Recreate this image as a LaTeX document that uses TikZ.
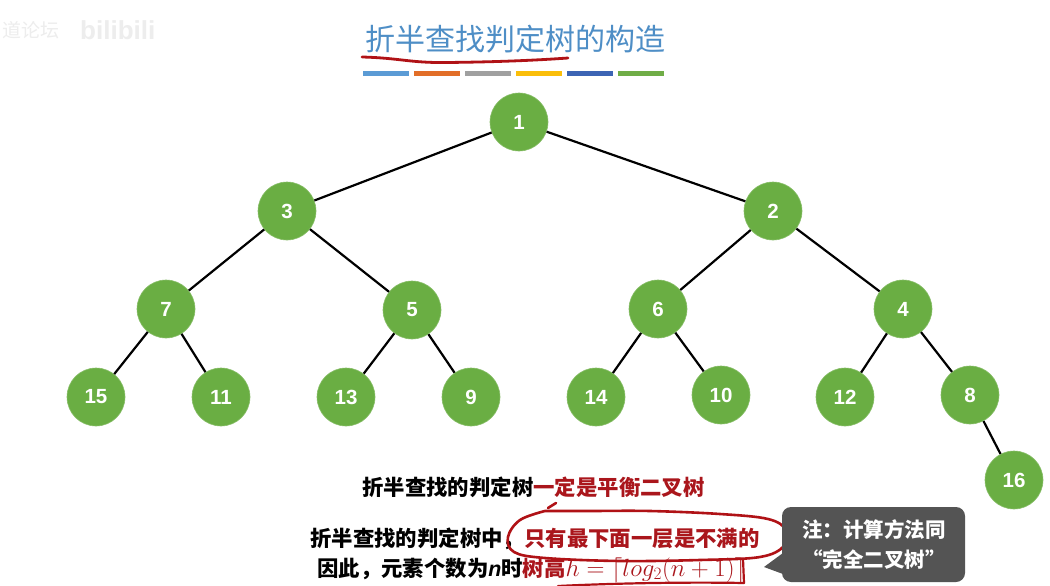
\documentclass[tikz,border=0pt]{standalone}
\usepackage{fontspec}
\setmainfont{Liberation Sans}
\newfontfamily\cjk{Noto Sans CJK SC}
\usetikzlibrary{positioning}
\definecolor{nodegreen}{RGB}{106,174,67}
\definecolor{titleblue}{RGB}{78,142,198}
\definecolor{annred}{RGB}{176,18,22}
\definecolor{txtred}{RGB}{170,22,28}
\definecolor{calloutgray}{RGB}{84,84,84}
\definecolor{barA}{RGB}{91,155,213}
\definecolor{barB}{RGB}{226,110,40}
\definecolor{barC}{RGB}{160,160,160}
\definecolor{barD}{RGB}{250,190,10}
\definecolor{barE}{RGB}{60,100,180}
\definecolor{barF}{RGB}{112,173,71}
\tikzset{
  tnode/.style={circle, fill=nodegreen, draw=nodegreen!80!white, line width=0.6pt, minimum size=58pt, inner sep=0pt,
    text=white, font=\fontsize{20.5}{24}\selectfont\bfseries},
  edge/.style={line width=2.2pt, black},
  bartop/.style={line width=5pt},
  redpen/.style={annred, line width=2.6pt, line cap=round, line join=round},
  bodytext/.style={font=\cjk\bfseries\fontsize{21.4}{26}\selectfont, inner sep=0pt, anchor=west},
}
\begin{document}
\begin{tikzpicture}[x=1pt,y=-1pt]
\useasboundingbox (0,0) rectangle (1050,586);
\fill[white] (0,0) rectangle (1050,586);

% faint watermark
\node[anchor=west, text=black!7, font=\cjk\fontsize{19}{22}\selectfont, inner sep=0pt] (wm1) at (2,30) {道论坛};
\node[anchor=west, text=black!7, font=\fontsize{26}{30}\selectfont\bfseries, inner sep=0pt] (wm2) at (80,30) {bilibili};

% title
\node[font=\cjk\fontsize{30}{34}\selectfont, text=titleblue, inner sep=0pt] (title) at (515.5,39) {折半查找判定树的构造};
\draw[redpen, line width=2.8pt] (362,57) .. controls (400,58) and (410,63) .. (446,62.5) .. controls (500,62) and (540,60) .. (568,58);

% color bars
\foreach \i/\c in {0/barA,1/barB,2/barC,3/barD,4/barE,5/barF}{
  \draw[bartop, \c] ({363+51*\i},74) -- ({409+51*\i},74);
}

% tree nodes
\node[tnode] (n1) at (519,122) {1};
\node[tnode] (n3) at (287,211) {3};
\node[tnode] (n2) at (773,211) {2};
\node[tnode] (n7) at (166,309) {7};
\node[tnode] (n5) at (412,310) {5};
\node[tnode] (n6) at (658,309) {6};
\node[tnode] (n4) at (903,309) {4};
\node[tnode] (n15) at (96,397) {15};
\node[tnode] (n11) at (221,397) {11};
\node[tnode] (n13) at (346,397) {13};
\node[tnode] (n9) at (471,397) {9};
\node[tnode] (n14) at (596,397) {14};
\node[tnode] (n10) at (721,395) {10};
\node[tnode] (n12) at (845,397) {12};
\node[tnode] (n8) at (970,395) {8};
\node[tnode] (n16) at (1014,480) {16};

\draw[edge] (n1) -- (n3);
\draw[edge] (n1) -- (n2);
\draw[edge] (n3) -- (n7);
\draw[edge] (n3) -- (n5);
\draw[edge] (n2) -- (n6);
\draw[edge] (n2) -- (n4);
\draw[edge] (n7) -- (n15);
\draw[edge] (n7) -- (n11);
\draw[edge] (n5) -- (n13);
\draw[edge] (n5) -- (n9);
\draw[edge] (n6) -- (n14);
\draw[edge] (n6) -- (n10);
\draw[edge] (n4) -- (n12);
\draw[edge] (n4) -- (n8);
\draw[edge] (n8) -- (n16);

% bottom text
\node[bodytext] (t1) at (362,487) {折半查找的判定树\textcolor{txtred}{一定是平衡二叉树}};
\node[bodytext] (t2) at (310,539) {折半查找的判定树中，\textcolor{txtred}{只有最下面一层是不满的}};
\node[bodytext] (t3) at (317,570) {因此，元素个数为{\fontspec{Liberation Sans}\bfseries\itshape n}时\textcolor{txtred}{树高\fontsize{25}{26}\selectfont$h=\lceil log_2(n+1)\rceil$}};

% red hand annotations
\draw[redpen] (556,503) -- (548,508);
\draw[redpen] plot[smooth, tension=0.6] coordinates {(545,511) (520,520) (508,537) (514,552) (545,558) (620,561) (700,560) (760,557) (784,546) (786,530) (768,519) (720,514) (650,511) (590,511) (545,511)};
\draw[redpen, line width=2.2pt] (743,559) -- (744,583);
\draw[redpen, line width=2.2pt] (558,586) .. controls (620,583) and (690,582) .. (744,583);

% callout
\fill[calloutgray, rounded corners=9pt] (782,507) rectangle (965,582);
\fill[calloutgray] (783,553) -- (764,567) -- (783,574) -- cycle;
\node[font=\cjk\bfseries\fontsize{20.5}{30}\selectfont, text=white, align=center, inner sep=0pt] (note) at (874,545) {注：计算方法同\\“完全二叉树”};
\end{tikzpicture}
\end{document}
